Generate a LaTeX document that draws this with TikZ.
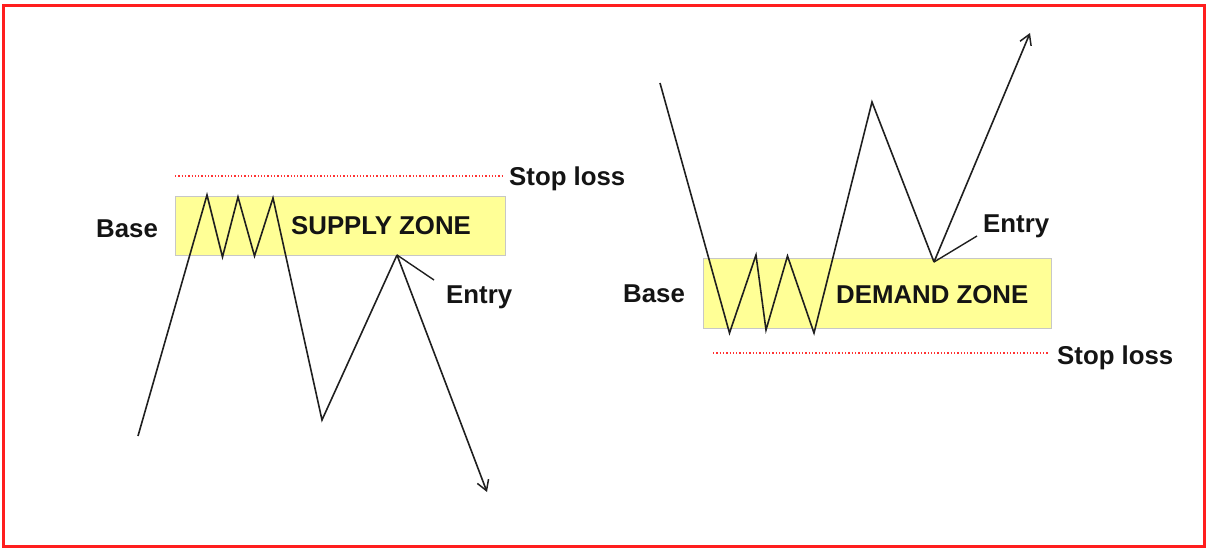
\documentclass[tikz,border=0pt]{standalone}
\usepackage{fontspec}
\setmainfont{Liberation Sans}
\usetikzlibrary{arrows.meta}
\definecolor{zoneyellow}{RGB}{255,255,150}
\definecolor{framered}{RGB}{255,30,30}
\begin{document}
\begin{tikzpicture}[x=1pt,y=-1pt,
  lbl/.style={font=\bfseries\fontsize{25.8}{30}\selectfont, inner sep=0pt, anchor=base west, text=black!92},
  zone/.style={draw=black!22, line width=1pt, fill=zoneyellow, inner sep=0pt},
  price/.style={draw=black!88, line width=1.6pt, line join=miter},
  arr/.style={price, -{Straight Barb[length=10pt,width=12pt,line width=1.5pt]}},
  stopline/.style={draw=red!80, line width=1.3pt, dash pattern=on 1.3pt off 2pt},
  ptr/.style={draw=black!88, line width=1.4pt}]
\useasboundingbox (0,0) rectangle (1208,548);
\draw[framered, line width=3pt] (3,6) rectangle (1204,546);

% zones
\node[zone, minimum width=330pt, minimum height=59pt] (sz) at (340,226.5) {};
\node[zone, minimum width=348pt, minimum height=69pt] (dz) at (877,293.5) {};

% supply side path
\coordinate (L0) at (138,436);
\coordinate (L1) at (207,195);
\coordinate (L2) at (222.5,257);
\coordinate (L3) at (238,197);
\coordinate (L4) at (254.5,256);
\coordinate (L5) at (273,198);
\coordinate (L6) at (322,420);
\coordinate (L7) at (397,255);
\coordinate (L8) at (487,492);
\coordinate (LE) at (434,280);
\draw[price] (L0) -- (L1) -- (L2) -- (L3) -- (L4) -- (L5) -- (L6) -- (L7);
\draw[arr] (L7) -- (L8);
\draw[ptr] (L7) -- (LE);

% demand side path
\coordinate (R0) at (660,83);
\coordinate (R1) at (729.5,333);
\coordinate (R2) at (756,255);
\coordinate (R3) at (766,330);
\coordinate (R4) at (787.5,256);
\coordinate (R5) at (814,333);
\coordinate (R6) at (872,102);
\coordinate (R7) at (934,262);
\coordinate (R8) at (1030,33);
\coordinate (RE) at (977,236);
\draw[price] (R0) -- (R1) -- (R2) -- (R3) -- (R4) -- (R5) -- (R6) -- (R7);
\draw[arr] (R7) -- (R8);
\draw[ptr] (R7) -- (RE);

% stop loss lines
\coordinate (SL1a) at (175,176);
\coordinate (SL1b) at (502,176);
\coordinate (SL2a) at (713,353);
\coordinate (SL2b) at (1048,353);
\draw[stopline] (SL1a) -- (SL1b);
\draw[stopline] (SL2a) -- (SL2b);

% labels
\node[lbl] (t1) at (509,186) {Stop loss};
\node[lbl] (t2) at (96,238) {Base};
\node[lbl] (t3) at (291,235) {SUPPLY ZONE};
\node[lbl] (t4) at (446,304) {Entry};
\node[lbl] (t5) at (983,233) {Entry};
\node[lbl] (t6) at (623,302) {Base};
\node[lbl] (t7) at (836,303) {DEMAND ZONE};
\node[lbl] (t8) at (1057,364) {Stop loss};
\end{tikzpicture}
\end{document}
